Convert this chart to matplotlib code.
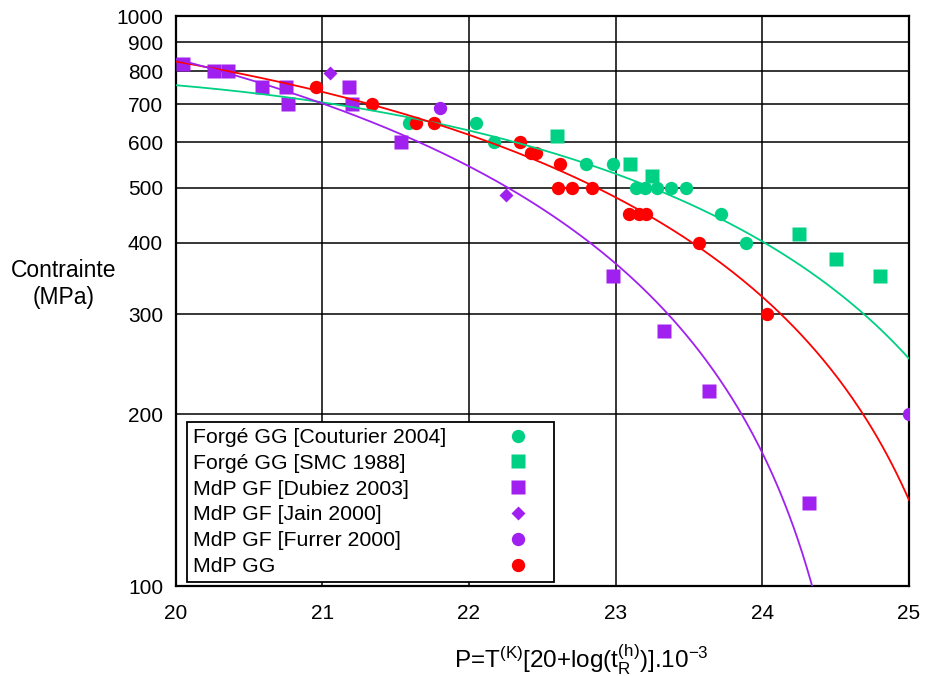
import numpy as np
import matplotlib
matplotlib.use("Agg")
import matplotlib.pyplot as plt
from matplotlib.ticker import FixedLocator, NullLocator, FixedFormatter

plt.rcParams['font.family'] = ['Liberation Sans', 'DejaVu Sans']
plt.rcParams['mathtext.fontset'] = 'custom'
plt.rcParams['mathtext.rm'] = 'Liberation Sans'
plt.rcParams['mathtext.it'] = 'Liberation Sans'

# ---- data ----
couturier_P = [21.59, 22.05, 22.17, 22.80, 22.98, 23.14, 23.20, 23.28, 23.38, 23.48, 23.72, 23.89]
couturier_S = [650, 650, 600, 550, 550, 500, 500, 500, 500, 500, 450, 400]

smc_P = [22.60, 23.10, 23.25, 24.25, 24.50, 24.80]
smc_S = [615, 550, 525, 415, 375, 350]

dubiez_P = [20.05, 20.26, 20.36, 20.59, 20.75, 20.77, 21.18, 21.20, 21.535, 22.98, 23.33, 23.64, 24.32]
dubiez_S = [825, 800, 800, 750, 750, 700, 750, 700, 600, 350, 280, 220, 140]

jain_P = [21.05, 22.25]
jain_S = [795, 485]

furrer_P = [21.80, 25.00]
furrer_S = [690, 200]

mdpgg_P = [20.955, 21.34, 21.64, 21.76, 22.35, 22.42, 22.46, 22.62, 22.61, 22.70, 22.84, 23.09, 23.16, 23.21, 23.57, 24.03]
mdpgg_S = [750, 700, 650, 650, 600, 575, 575, 550, 500, 500, 500, 450, 450, 450, 400, 300]

# trend-line values at integer P
trend_P = [20, 21, 22, 23, 24, 25]
trend_green = [755, 706, 635, 522, 404, 251]
trend_red = [832, 736, 620, 480, 321, 142]
trend_purple_P = [20, 21, 22, 23, 24]
trend_purple = [840, 703, 546, 366, 172]

y_ticks = [100, 200, 300, 400, 500, 600, 700, 800, 900, 1000]
x_ticks = [20, 21, 22, 23, 24, 25]

legend_labels = ["Forgé GG [Couturier 2004]", "Forgé GG [SMC 1988]", "MdP GF [Dubiez 2003]",
                 "MdP GF [Jain 2000]", "MdP GF [Furrer 2000]", "MdP GG"]

GREEN = "#00D084"
PURPLE = "#A020F0"
RED = "#FF0000"

DPI = 100
fig = plt.figure(figsize=(9.25, 6.76), dpi=DPI)
ax = fig.add_axes([175.5 / 925, 1 - 586 / 676, (909 - 175.5) / 925, (586 - 16) / 676])
ax.set_yscale('log')
ax.set_xlim(20, 25)
ax.set_ylim(100, 1000)

ms_c = 9.6
ms_s = 9.5
ax.plot(couturier_P, couturier_S, 'o', color=GREEN, ms=ms_c, mec='none', label=legend_labels[0], zorder=3)
ax.plot(smc_P, smc_S, 's', color=GREEN, ms=ms_s, mec='none', label=legend_labels[1], zorder=3)
ax.plot(dubiez_P, dubiez_S, 's', color=PURPLE, ms=ms_s, mec='none', label=legend_labels[2], zorder=3)
ax.plot(jain_P, jain_S, 'D', color=PURPLE, ms=7.3, mec='none', label=legend_labels[3], zorder=3)
ax.plot(furrer_P, furrer_S, 'o', color=PURPLE, ms=ms_c, mec='none', label=legend_labels[4], zorder=3)
ax.plot(mdpgg_P, mdpgg_S, 'o', color=RED, ms=ms_c, mec='none', label=legend_labels[5], zorder=3)

# polynomial (order 2) trend lines through the read trend values
def trend(px, py, x0, x1):
    c = np.polyfit(px, py, 2)
    xx = np.linspace(x0, x1, 300)
    return xx, np.polyval(c, xx)

xx, yy = trend(trend_P, trend_green, 20, 25)
ax.plot(xx, yy, '-', color=GREEN, lw=1.3, zorder=4)
xx, yy = trend(trend_P, trend_red, 20, 25)
ax.plot(xx, yy, '-', color=RED, lw=1.3, zorder=4)
xx, yy = trend(trend_purple_P, trend_purple, 20, 24.45)
ax.plot(xx, yy, '-', color=PURPLE, lw=1.3, zorder=4)

ax.yaxis.set_major_locator(FixedLocator(y_ticks))
ax.yaxis.set_major_formatter(FixedFormatter([str(v) for v in y_ticks]))
ax.yaxis.set_minor_locator(NullLocator())
ax.set_xticks(x_ticks)
ax.set_xticklabels([str(v) for v in x_ticks])
ax.tick_params(axis='y', length=0, pad=9, labelsize=15)
ax.tick_params(axis='x', length=0, pad=13, labelsize=15)
ax.grid(True, which='major', color='black', lw=1.1)
ax.set_axisbelow(True)
for s in ax.spines.values():
    s.set_linewidth(1.6)
    s.set_color('black')

LEG_FS = 15.3
HTP = 2.0
leg = ax.legend(loc='lower left', bbox_to_anchor=((187 - 175.5) / 733.5, 4 / 570), borderaxespad=0,
                markerfirst=False, fontsize=LEG_FS, frameon=True, fancybox=False, shadow=False,
                handlelength=2.8, handletextpad=HTP, borderpad=0.28, labelspacing=0.32,
                numpoints=1)
leg.get_frame().set_edgecolor('black')
leg.get_frame().set_linewidth(1.3)
leg.get_frame().set_alpha(1)

fig.text(64 / 925, 1 - 284 / 676, "Contrainte\n(MPa)", ha='center', va='center', fontsize=16.5,
         linespacing=1.25)
fig.text(581 / 925, 1 - 660 / 676,
         'P=T$^\\mathregular{(K)}$[20+log(t$_\\mathregular{R}^\\mathregular{(h)}$)].10$^\\mathregular{-3}$',
         ha='center', va='center', fontsize=17.5)

# left-align legend texts while keeping the markers in one column on the right
fig.canvas.draw()
renderer = fig.canvas.get_renderer()
texts = leg.get_texts()
widths = [t.get_window_extent(renderer).width for t in texts]
maxw = max(widths)
columns = leg._legend_handle_box.get_children()
items = [it for col in columns for it in col.get_children()]
for it, w in zip(items, widths):
    it.sep = HTP * LEG_FS + (maxw - w) * 72.0 / DPI

fig.savefig("out.png", dpi=DPI)
